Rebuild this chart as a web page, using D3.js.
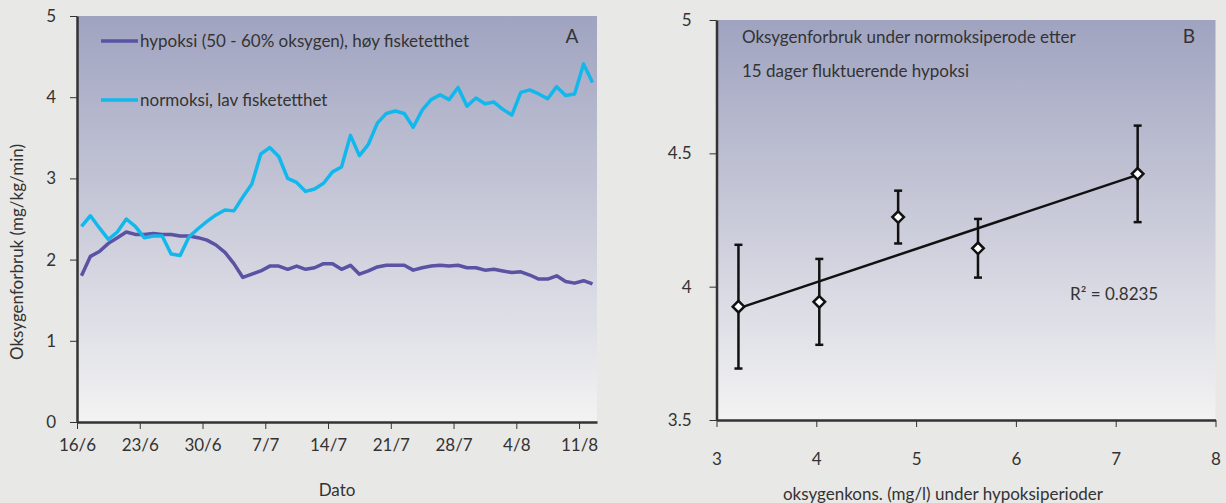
<!DOCTYPE html>
<html>
<head>
<meta charset="utf-8">
<script src="https://cdn.jsdelivr.net/npm/d3@7"></script>
<style>
  body { margin: 0; background: #e8e8e6; }
  svg { display: block; font-family: Lato, "Open Sans", sans-serif; }
  .axis path, .axis line { stroke: #333; }
  .axis text { fill: #333; font-size: 17px; font-family: Lato, sans-serif; }
</style>
</head>
<body>
<div id="chart"></div>
<script>
// panel A: daily values from 16/6
const startDate = new Date(2010, 5, 16);
const hypoxia = [1.80, 2.04, 2.10, 2.20, 2.27, 2.34, 2.31, 2.31, 2.32, 2.31,
  2.31, 2.29, 2.29, 2.27, 2.24, 2.18, 2.09, 1.95, 1.78, 1.82,
  1.86, 1.92, 1.92, 1.88, 1.92, 1.88, 1.90, 1.95, 1.95, 1.88,
  1.93, 1.82, 1.86, 1.91, 1.93, 1.93, 1.93, 1.87, 1.90, 1.92,
  1.93, 1.92, 1.93, 1.90, 1.90, 1.87, 1.88, 1.86, 1.84, 1.85,
  1.81, 1.76, 1.76, 1.80, 1.73, 1.71, 1.74, 1.70];
const normoxia = [2.41, 2.54, 2.39, 2.25, 2.34, 2.50, 2.41, 2.27, 2.29, 2.29,
  2.07, 2.05, 2.28, 2.38, 2.47, 2.55, 2.61, 2.60, 2.77, 2.93,
  3.30, 3.38, 3.27, 3.00, 2.95, 2.84, 2.87, 2.94, 3.08, 3.14,
  3.53, 3.28, 3.42, 3.68, 3.80, 3.83, 3.80, 3.63, 3.84, 3.97,
  4.03, 3.97, 4.12, 3.89, 3.99, 3.92, 3.94, 3.85, 3.78, 4.06,
  4.09, 4.04, 3.98, 4.13, 4.02, 4.04, 4.41, 4.18];
const seriesNames = ['hypoksi (50 - 60% oksygen), høy fisketetthet', 'normoksi, lav fisketetthet'];
const seriesColors = ['#5a52a3', '#12b8ec'];

// panel B
const oxyConc = [3.22, 4.03, 4.82, 5.62, 7.22];
const oxyUse = [3.925, 3.943, 4.261, 4.144, 4.423];
const oxyErr = [0.232, 0.161, 0.099, 0.11, 0.181];

const W = 1226, H = 503;
const svg = d3.select('#chart').append('svg').attr('width', W).attr('height', H);

const defs = svg.append('defs');
const grad = defs.append('linearGradient').attr('id', 'bg').attr('x1', 0).attr('y1', 0).attr('x2', 0).attr('y2', 1);
grad.append('stop').attr('offset', '0%').attr('stop-color', '#a0a3c0');
grad.append('stop').attr('offset', '100%').attr('stop-color', '#f3f3f3');

// ---------- panel A ----------
const aLeft = 77, aRight = 597, aTop = 16, aBottom = 422;
const dayMs = 864e5;
const endDate = new Date(startDate.getTime() + hypoxia.length * dayMs);
const xA = d3.scaleTime().domain([startDate, endDate]).range([aLeft, aRight]);
const yA = d3.scaleLinear().domain([0, 5]).range([aBottom, aTop]);
const dateAt = i => new Date(startDate.getTime() + (i + 0.5) * dayMs);

svg.append('rect').attr('x', aLeft).attr('y', aTop)
  .attr('width', aRight - aLeft).attr('height', aBottom - aTop).attr('fill', 'url(#bg)');

const tickDates = d3.range(0, hypoxia.length, 7).map(d => new Date(startDate.getTime() + d * dayMs));
const fmt = d3.timeFormat('%-d/%-m');

svg.append('g').attr('class', 'axis')
  .attr('transform', `translate(0,${aBottom})`)
  .call(d3.axisBottom(xA).tickValues(tickDates).tickFormat(fmt).tickSizeInner(7).tickSizeOuter(0).tickPadding(10))
  .call(g => g.select('.domain').attr('stroke-width', 2.5))
  .call(g => g.selectAll('.tick line').attr('stroke', '#555'));

svg.append('g').attr('class', 'axis')
  .attr('transform', `translate(${aLeft},0)`)
  .call(d3.axisLeft(yA).ticks(5).tickSizeInner(7).tickSizeOuter(0).tickPadding(14))
  .call(g => g.select('.domain').attr('stroke-width', 2.5))
  .call(g => g.selectAll('.tick line').attr('stroke', '#555'));

const lineA = d3.line().x((d, i) => xA(dateAt(i))).y(d => yA(d));
[hypoxia, normoxia].forEach((s, k) => {
  svg.append('path').datum(s).attr('d', lineA)
    .attr('fill', 'none').attr('stroke', seriesColors[k]).attr('stroke-width', 3.5)
    .attr('stroke-linejoin', 'round');
});

// legend
const legY = [41, 100];
seriesNames.forEach((name, k) => {
  svg.append('line').attr('x1', 101).attr('x2', 138).attr('y1', legY[k]).attr('y2', legY[k])
    .attr('stroke', seriesColors[k]).attr('stroke-width', 3.5);
  svg.append('text').attr('x', 140).attr('y', legY[k] + 6).attr('font-size', 17).attr('fill', '#333').text(name);
});
svg.append('text').attr('x', 572).attr('y', 43).attr('font-size', 19).attr('fill', '#333').attr('text-anchor', 'middle').text('A');

svg.append('text').attr('transform', 'translate(23,252) rotate(-90)')
  .attr('text-anchor', 'middle').attr('font-size', 17).attr('fill', '#333').text('Oksygenforbruk (mg/kg/min)');
svg.append('text').attr('x', 337).attr('y', 496)
  .attr('text-anchor', 'middle').attr('font-size', 17).attr('fill', '#333').text('Dato');

// ---------- panel B ----------
const bLeft = 716.5, bRight = 1215.5, bTop = 20, bBottom = 420;
const xB = d3.scaleLinear().domain([3, 8]).range([bLeft, bRight]);
const yB = d3.scaleLinear().domain([3.5, 5]).range([bBottom, bTop]);

svg.append('rect').attr('x', bLeft).attr('y', bTop)
  .attr('width', bRight - bLeft).attr('height', bBottom - bTop).attr('fill', 'url(#bg)');

svg.append('g').attr('class', 'axis')
  .attr('transform', `translate(0,${bBottom})`)
  .call(d3.axisBottom(xB).ticks(5).tickSizeInner(7).tickSizeOuter(0).tickPadding(26))
  .call(g => g.select('.domain').attr('stroke-width', 2.5))
  .call(g => g.selectAll('.tick line').attr('stroke', '#555'));

svg.append('g').attr('class', 'axis')
  .attr('transform', `translate(${bLeft},0)`)
  .call(d3.axisLeft(yB).tickValues([3.5, 4, 4.5, 5]).tickFormat(d3.format('')).tickSizeInner(7).tickSizeOuter(0).tickPadding(18))
  .call(g => g.select('.domain').attr('stroke-width', 2.5))
  .call(g => g.selectAll('.tick line').attr('stroke', '#555'));

// linear trend
const mx = d3.mean(oxyConc), my = d3.mean(oxyUse);
const slope = d3.sum(oxyConc, (x, i) => (x - mx) * (oxyUse[i] - my)) / d3.sum(oxyConc, x => (x - mx) ** 2);
const icpt = my - slope * mx;
const xr = d3.extent(oxyConc);
svg.append('line')
  .attr('x1', xB(xr[0])).attr('y1', yB(icpt + slope * xr[0]))
  .attr('x2', xB(xr[1])).attr('y2', yB(icpt + slope * xr[1]))
  .attr('stroke', '#111').attr('stroke-width', 2.5);

const pts = svg.append('g').selectAll('g').data(oxyConc).join('g');
pts.append('line')
  .attr('x1', d => xB(d)).attr('x2', d => xB(d))
  .attr('y1', (d, i) => yB(oxyUse[i] + oxyErr[i])).attr('y2', (d, i) => yB(oxyUse[i] - oxyErr[i]))
  .attr('stroke', '#111').attr('stroke-width', 2.5);
[1, -1].forEach(sgn => {
  pts.append('line')
    .attr('x1', d => xB(d) - 4).attr('x2', d => xB(d) + 4)
    .attr('y1', (d, i) => yB(oxyUse[i] + sgn * oxyErr[i])).attr('y2', (d, i) => yB(oxyUse[i] + sgn * oxyErr[i]))
    .attr('stroke', '#111').attr('stroke-width', 2.5);
});
pts.append('path')
  .attr('d', d3.symbol(d3.symbolDiamond2, 85))
  .attr('transform', (d, i) => `translate(${xB(d)},${yB(oxyUse[i])})`)
  .attr('fill', '#fff').attr('stroke', '#111').attr('stroke-width', 2.5);

svg.append('text').attr('x', 742).attr('y', 43).attr('font-size', 17).attr('fill', '#333')
  .text('Oksygenforbruk under normoksiperode etter');
svg.append('text').attr('x', 742).attr('y', 77).attr('font-size', 17).attr('fill', '#333')
  .text('15 dager fluktuerende hypoksi');
svg.append('text').attr('x', 1189).attr('y', 43).attr('font-size', 19).attr('fill', '#333').attr('text-anchor', 'middle').text('B');
svg.append('text').attr('x', 1070).attr('y', 300).attr('font-size', 17).attr('fill', '#333').text('R² = 0.8235');
svg.append('text').attr('x', 943).attr('y', 500)
  .attr('text-anchor', 'middle').attr('font-size', 17).attr('fill', '#333').text('oksygenkons. (mg/l) under hypoksiperioder');
</script>
</body>
</html>
